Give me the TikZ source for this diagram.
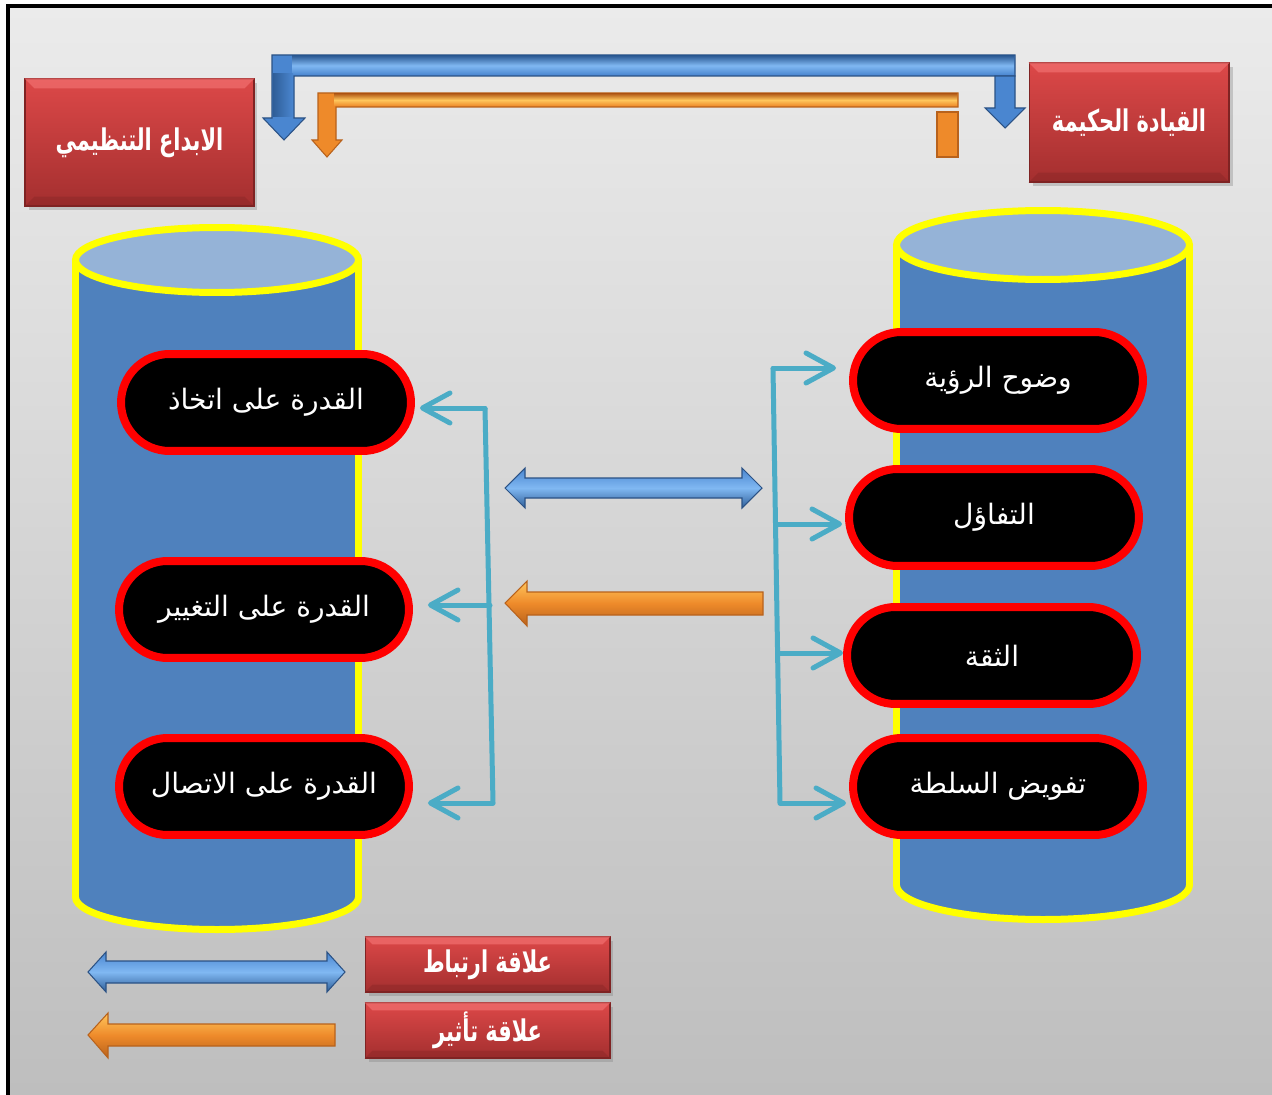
\documentclass[tikz,border=0pt]{standalone}
\usepackage{fontspec}
\newfontfamily\arabicfont[Script=Arabic]{DejaVu Sans}
\newfontfamily\arabicnarrow[Script=Arabic,FakeStretch=0.7]{DejaVu Sans}
\TeXXeTstate=1
\usetikzlibrary{shapes.misc,calc,arrows.meta,shadows}
\definecolor{bgtop}{HTML}{EBEBEB}
\definecolor{bgbot}{HTML}{BEBEBE}
\definecolor{cylbody}{HTML}{4F81BD}
\definecolor{cyltop}{HTML}{95B3D7}
\definecolor{yel}{HTML}{FFFF00}
\definecolor{redtop}{HTML}{DC4848}
\definecolor{redbot}{HTML}{A42F2F}
\definecolor{redD}{HTML}{7F2323}
\definecolor{redL}{HTML}{EE6B6B}
\definecolor{blueD}{HTML}{2B5285}
\definecolor{blueT}{HTML}{2F5E98}
\definecolor{blueM}{HTML}{4A86D0}
\definecolor{blueL}{HTML}{80B8F2}
\definecolor{orD}{HTML}{B8621C}
\definecolor{orM}{HTML}{EE8A2A}
\definecolor{orL}{HTML}{FFC65C}
\definecolor{cyanc}{HTML}{4BACC6}
\newcommand\artxt[1]{\beginR #1\endR}
\tikzset{
  pill/.style={rounded rectangle, draw=red, line width=0.16cm, fill=black, text=white,
    minimum width=5.8cm, minimum height=1.94cm, inner sep=0pt,
    font=\arabicfont\fontsize{16}{19}\selectfont},
  redbox/.style={rectangle, draw=redD, line width=0.6pt, top color=redtop, bottom color=redbot,
    text=white, inner sep=0pt, font=\arabicnarrow\bfseries\fontsize{17}{20}\selectfont,
    drop shadow={opacity=0.35, shadow xshift=2pt, shadow yshift=-2pt}},
  conn/.style={draw=cyanc, line width=0.1cm, line cap=round,
    -{Straight Barb[length=0.55cm,width=0.6cm,round]}},
  trunk/.style={draw=cyanc, line width=0.1cm},
  cylline/.style={draw=yel, line width=0.14cm},
  bluearr/.style={draw=blueD, line width=0.6pt, top color=blueM, bottom color=blueT, middle color=blueL},
  orarr/.style={draw=orD, line width=0.6pt, top color=orL, bottom color=orD, middle color=orM},
}
\begin{document}
\begin{tikzpicture}[x=0.02cm,y=-0.02cm]
\useasboundingbox (0,0) rectangle (1272,1095);
% background
\shade[top color=bgtop, bottom color=bgbot] (8,6) rectangle (1272,1095);
\draw[line width=2.4pt] (1280,6) -- (8,6) -- (8,1100);

% red title boxes
\node[redbox, minimum width=4.58cm, minimum height=2.54cm] (bl) at (139.5,142.5) {\artxt{الابداع التنظيمي}};
\node[redbox, minimum width=4cm, minimum height=2.38cm] (br) at (1129,122.5) {\artxt{القيادة الحكيمة}};
\foreach \b in {bl,br}{
  \fill[redL,opacity=0.8] (\b.north west) -- (\b.north east) -- ($(\b.north east)+(-10,10)$) -- ($(\b.north west)+(10,10)$) -- cycle;
  \fill[redD,opacity=0.35] (\b.south west) -- (\b.south east) -- ($(\b.south east)+(-10,-10)$) -- ($(\b.south west)+(10,-10)$) -- cycle;
}

% blue bent arrow
\path[fill=blueM, draw=blueD, line width=0.6pt] (272,55) -- (1015,55) -- (1015,76) -- (294,76) -- (294,118) -- (305,118) -- (284,140) -- (263,118) -- (272,118) -- cycle;
\shade[top color=blueT, bottom color=blueM, middle color=blueL] (292,56) rectangle (1014,75);
\shade[left color=blueT, right color=blueM] (273,74) rectangle (293,117);
\path[fill=blueM, draw=blueD, line width=0.6pt] (995,76) -- (1015,76) -- (1015,108) -- (1025,108) -- (1005,128) -- (985,108) -- (995,108) -- cycle;
% orange bent arrow
\path[fill=orM, draw=orD, line width=0.6pt] (318,93) -- (958,93) -- (958,107) -- (336,107) -- (336,140) -- (342,140) -- (327,157) -- (312,140) -- (318,140) -- cycle;
\shade[top color=orD, bottom color=orM, middle color=orL] (334,94) rectangle (957,106);
\path[fill=orM, draw=orD, line width=0.6pt] (937,112) rectangle (958,157);

% left cylinder
\path[fill=cylbody, cylline] (217,897) ellipse [x radius=141.5, y radius=32.5];
\fill[cylbody] (75.5,260) rectangle (358.5,897);
\draw[cylline] (75.5,260) -- (75.5,897);
\draw[cylline] (358.5,260) -- (358.5,897);
\path[fill=cyltop, cylline] (217,260) ellipse [x radius=141.5, y radius=32.5];

% right cylinder
\path[fill=cylbody, cylline] (1043,885) ellipse [x radius=146.5, y radius=34.5];
\fill[cylbody] (896.5,245) rectangle (1189.5,885);
\draw[cylline] (896.5,245) -- (896.5,885);
\draw[cylline] (1189.5,245) -- (1189.5,885);
\path[fill=cyltop, cylline] (1043,245) ellipse [x radius=146.5, y radius=34.5];

% pills left
\node[pill] (l1) at (266,402.5) {\artxt{القدرة على اتخاذ}};
\node[pill] (l2) at (264,609.5) {\artxt{القدرة على التغيير}};
\node[pill] (l3) at (264,786.5) {\artxt{القدرة على الاتصال}};
% pills right
\node[pill] (r1) at (998,380.5) {\artxt{وضوح الرؤية}};
\node[pill] (r2) at (994,517.5) {\artxt{التفاؤل}};
\node[pill] (r3) at (992,655.5) {\artxt{الثقة}};
\node[pill] (r4) at (998,786.5) {\artxt{تفويض السلطة}};

% left connectors
\coordinate (lt) at (485,408);
\coordinate (lm) at (490,605);
\coordinate (lb) at (493,803);
\draw[trunk] (lt) -- (lb);
\draw[conn, shorten >=0.1cm] (lt) -- (lt -| l1.east);
\draw[conn, shorten >=0.3cm] (lm) -- (lm -| l2.east);
\draw[conn, shorten >=0.3cm] (lb) -- (lb -| l3.east);
% right connectors
\coordinate (rt) at (773,368);
\coordinate (rm1) at (776,524);
\coordinate (rm2) at (778,653);
\coordinate (rb) at (780,803);
\draw[trunk] (rt) -- (rb);
\draw[conn, shorten >=0.26cm] (rt) -- (rt -| r1.west);
\draw[conn, shorten >=0.06cm] (rm1) -- (rm1 -| r2.west);
\draw[conn] (rm2) -- (rm2 -| r3.west);
\draw[conn, shorten >=0.06cm] (rb) -- (rb -| r4.west);

% central arrows
\path[bluearr] (505,488) -- (525,468) -- (525,478) -- (742,478) -- (742,468) -- (762,488) -- (742,508) -- (742,498) -- (525,498) -- (525,508) -- cycle;
\path[orarr] (505,603) -- (527,581) -- (527,592) -- (763,592) -- (763,615) -- (527,615) -- (527,626) -- cycle;

% legend
\path[bluearr] (88,972) -- (106,952) -- (106,961) -- (327,961) -- (327,952) -- (345,972) -- (327,992) -- (327,983) -- (106,983) -- (106,992) -- cycle;
\path[orarr] (88,1035) -- (108,1013) -- (108,1024) -- (335,1024) -- (335,1046) -- (108,1046) -- (108,1058) -- cycle;
\node[redbox, minimum width=4.9cm, minimum height=1.1cm] (g1) at (487.5,964.5) {\artxt{علاقة ارتباط}};
\node[redbox, minimum width=4.9cm, minimum height=1.1cm] (g2) at (487.5,1030.5) {\artxt{علاقة تأثير}};
\foreach \b in {g1,g2}{
  \fill[redL,opacity=0.8] (\b.north west) -- (\b.north east) -- ($(\b.north east)+(-8,8)$) -- ($(\b.north west)+(8,8)$) -- cycle;
  \fill[redD,opacity=0.35] (\b.south west) -- (\b.south east) -- ($(\b.south east)+(-8,-8)$) -- ($(\b.south west)+(8,-8)$) -- cycle;
}
\end{tikzpicture}
\end{document}
